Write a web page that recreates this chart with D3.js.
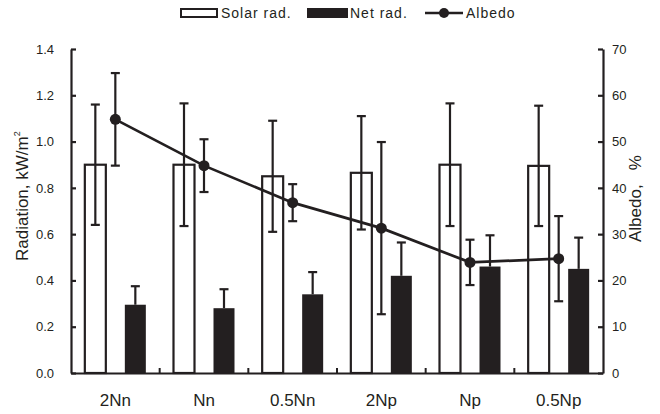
<!DOCTYPE html>
<meta charset="utf-8">
<style>
body { margin: 0; background: #fff; }
text { font-family: "Liberation Sans", Arial, sans-serif; fill: #231f20; }
.axis path, .axis line { stroke: #231f20; stroke-width: 2.2px; }
.axis text { font-size: 13px; }
.axis.cat text { font-size: 17px; }
.legend text { font-size: 14px; letter-spacing: 1px; }
</style>
<body>
<svg width="660" height="414"></svg>
<script src="https://d3js.org/d3.v7.min.js"></script>
<script>
// values
var categories = ["2Nn", "Nn", "0.5Nn", "2Np", "Np", "0.5Np"];
var solar    = [0.90, 0.90, 0.85, 0.865, 0.90, 0.895];
var solarErr = [0.26, 0.265, 0.24, 0.245, 0.265, 0.26];
var net      = [0.295, 0.28, 0.34, 0.42, 0.46, 0.45];
var netErr   = [0.08, 0.082, 0.096, 0.144, 0.135, 0.135];
var albedo    = [54.8, 44.8, 36.8, 31.3, 23.9, 24.7];
var albedoErr = [10, 5.7, 4, 18.6, 4.9, 9.2];
var radTicks = [0, 0.2, 0.4, 0.6, 0.8, 1.0, 1.2, 1.4];
var albTicks = [0, 10, 20, 30, 40, 50, 60, 70];

var ink = "#231f20";
var svg = d3.select("svg");
var pLeft = 71, pRight = 603, pTop = 49, pBottom = 373;

var x = d3.scaleBand().domain(categories).range([pLeft, pRight]);
var y = d3.scaleLinear().domain([0, 1.4]).range([pBottom, pTop]);
var y2 = d3.scaleLinear().domain([0, 70]).range([pBottom, pTop]);

var rows = categories.map(function(c, i) {
  return {cat: c, solar: solar[i], solarErr: solarErr[i], net: net[i],
          netErr: netErr[i], albedo: albedo[i], albedoErr: albedoErr[i]};
});
var cx = function(d) { return x(d.cat) + x.bandwidth() / 2; };
var barW = 21, off = 20, cap = 4.5;

// solar bars (open)
svg.append("g").selectAll("rect").data(rows).enter().append("rect")
    .attr("x", function(d) { return cx(d) - off - barW / 2; })
    .attr("y", function(d) { return y(d.solar); })
    .attr("width", barW)
    .attr("height", function(d) { return y(0) - y(d.solar); })
    .attr("fill", "#fff").attr("stroke", ink).attr("stroke-width", 2.2);

// net bars (filled)
svg.append("g").selectAll("rect").data(rows).enter().append("rect")
    .attr("x", function(d) { return cx(d) + off - barW / 2; })
    .attr("y", function(d) { return y(d.net); })
    .attr("width", barW)
    .attr("height", function(d) { return y(0) - y(d.net); })
    .attr("fill", ink);

function errBar(g, xc, y1, y0, both) {
  g.append("line").attr("x1", xc).attr("x2", xc).attr("y1", y1).attr("y2", y0);
  g.append("line").attr("x1", xc - cap).attr("x2", xc + cap).attr("y1", y1).attr("y2", y1);
  if (both) g.append("line").attr("x1", xc - cap).attr("x2", xc + cap).attr("y1", y0).attr("y2", y0);
}
var eg = svg.append("g").attr("stroke", ink).attr("stroke-width", 2.2);
rows.forEach(function(d) {
  errBar(eg, cx(d) - off, y(d.solar + d.solarErr), y(d.solar - d.solarErr), true);
  errBar(eg, cx(d) + off, y(d.net + d.netErr), y(d.net), false);
  errBar(eg, cx(d), y2(d.albedo + d.albedoErr), y2(d.albedo - d.albedoErr), true);
});

// albedo line + markers
svg.append("path").datum(rows)
    .attr("fill", "none").attr("stroke", ink).attr("stroke-width", 2.7)
    .attr("d", d3.line().x(cx).y(function(d) { return y2(d.albedo); }));
svg.append("g").selectAll("circle").data(rows).enter().append("circle")
    .attr("cx", cx).attr("cy", function(d) { return y2(d.albedo); })
    .attr("r", 5.5).attr("fill", ink);

// axes
svg.append("g").attr("class", "axis").attr("transform", "translate(" + pLeft + ",0)")
    .call(d3.axisLeft(y).tickValues(radTicks).tickFormat(d3.format(".1f"))
      .tickSize(-5).tickSizeOuter(0).tickPadding(17));
svg.append("g").attr("class", "axis").attr("transform", "translate(" + pRight + ",0)")
    .call(d3.axisRight(y2).tickValues(albTicks).tickSize(-5).tickSizeOuter(0).tickPadding(9));
svg.append("g").attr("class", "axis cat").attr("transform", "translate(0," + pBottom + ")")
    .call(d3.axisBottom(x).tickSize(0).tickPadding(21));
svg.selectAll(".axis text").attr("fill", ink);
svg.selectAll(".axis").attr("font-family", null).attr("font-size", null);

// category boundary ticks
svg.append("g").attr("stroke", ink).attr("stroke-width", 2)
  .selectAll("line").data(categories.slice(0, -1)).enter().append("line")
    .attr("x1", function(c) { return x(c) + x.step(); })
    .attr("x2", function(c) { return x(c) + x.step(); })
    .attr("y1", pBottom).attr("y2", pBottom - 5);

// axis titles
var lt = svg.append("text").attr("transform", "translate(28,261) rotate(-90)")
    .style("font-size", "17px");
lt.append("tspan").text("Radiation, kW/m");
lt.append("tspan").text("2").style("font-size", "9px").attr("dy", -8);
svg.append("text").attr("transform", "translate(641,242) rotate(-90)")
    .style("font-size", "17px").style("white-space", "pre")
    .text("Albedo,   %");

// legend
var lg = svg.append("g").attr("class", "legend");
lg.append("rect").attr("x", 181).attr("y", 9).attr("width", 36).attr("height", 8)
    .attr("fill", "#fff").attr("stroke", ink).attr("stroke-width", 2);
lg.append("text").attr("x", 221).attr("y", 18).text("Solar rad.");
lg.append("rect").attr("x", 307).attr("y", 8).attr("width", 41).attr("height", 10).attr("fill", ink);
lg.append("text").attr("x", 350).attr("y", 18).text("Net rad.");
lg.append("line").attr("x1", 425).attr("x2", 463).attr("y1", 13).attr("y2", 13)
    .attr("stroke", ink).attr("stroke-width", 2.5);
lg.append("circle").attr("cx", 444).attr("cy", 13).attr("r", 5).attr("fill", ink);
lg.append("text").attr("x", 466).attr("y", 18).text("Albedo");
</script>
